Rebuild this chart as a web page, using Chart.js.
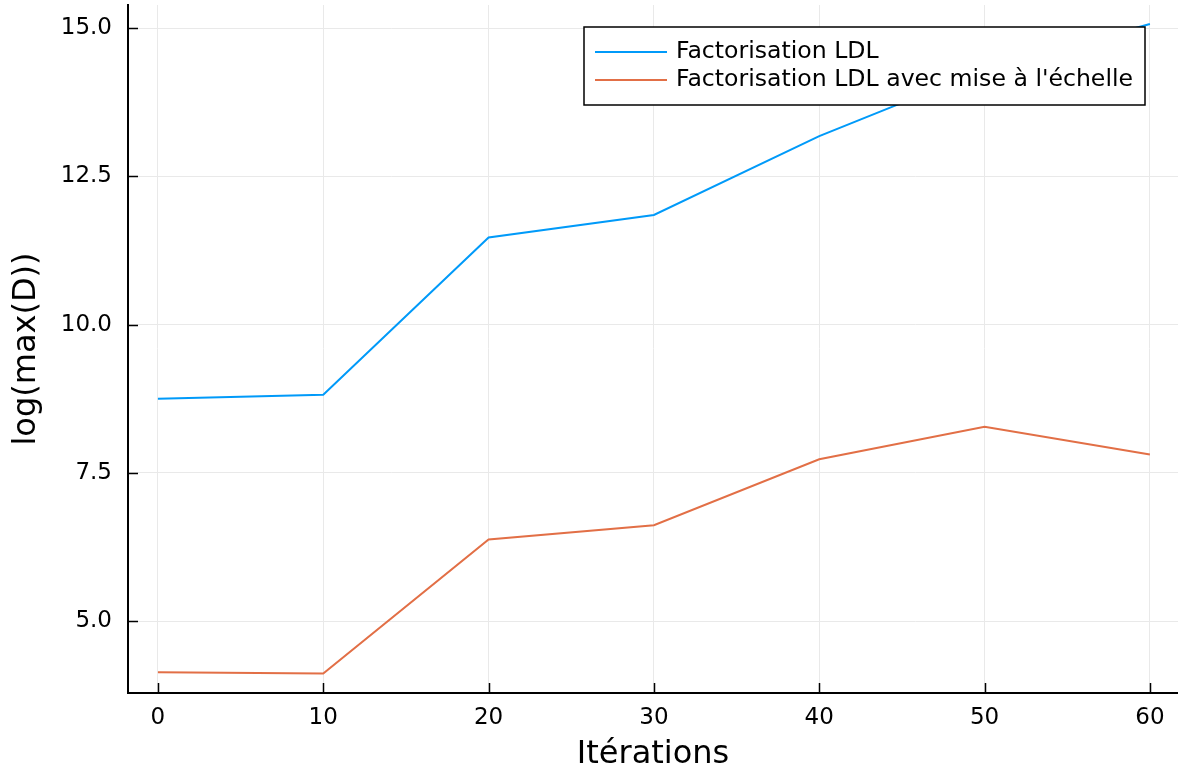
<!DOCTYPE html>
<html>
<head>
<meta charset="utf-8">
<title>log(max(D))</title>
<script src="https://cdn.jsdelivr.net/npm/chart.js@4.4.1/dist/chart.umd.min.js"></script>
<style>
  html, body { margin: 0; padding: 0; background: #ffffff; }
  #wrap { width: 1178px; height: 772px; }
</style>
</head>
<body>
<div id="wrap"><canvas id="c" width="1178" height="772"></canvas></div>
<script>
// Iteration counts and the log of the largest diagonal entry of D
const iterations = [0, 10, 20, 30, 40, 50, 60];
const ldl = [8.75, 8.82, 11.47, 11.85, 13.18, 14.30, 15.07];
const ldlScaled = [4.14, 4.12, 6.38, 6.62, 7.73, 8.28, 7.81];

const seriesLabels = ['Factorisation LDL', "Factorisation LDL avec mise à l'échelle"];
const seriesColors = ['#009af9', '#e26f46'];

const xTicks = [0, 10, 20, 30, 40, 50, 60];
const yTicks = [5.0, 7.5, 10.0, 12.5, 15.0];

const FONT = "'DejaVu Sans', sans-serif";
Chart.defaults.font.family = FONT;
Chart.defaults.color = '#000000';

// Short tick marks pointing into the plot area
const innerTicks = {
  id: 'innerTicks',
  afterDatasetsDraw(chart) {
    const { ctx, chartArea, scales } = chart;
    ctx.save();
    ctx.strokeStyle = '#000000';
    ctx.lineWidth = 1.5;
    ctx.beginPath();
    for (const v of xTicks) {
      const px = Math.round(scales.x.getPixelForValue(v)) + 0.5;
      ctx.moveTo(px, chartArea.bottom);
      ctx.lineTo(px, chartArea.bottom - 10);
    }
    for (const v of yTicks) {
      const py = Math.round(scales.y.getPixelForValue(v)) + 0.5;
      ctx.moveTo(chartArea.left, py);
      ctx.lineTo(chartArea.left + 10, py);
    }
    ctx.stroke();
    ctx.restore();
  }
};

// Framed legend in the upper right of the plot
const boxLegend = {
  id: 'boxLegend',
  afterDatasetsDraw(chart) {
    const { ctx } = chart;
    const x0 = 584, y0 = 27, w = 561, h = 78;
    ctx.save();
    ctx.fillStyle = '#ffffff';
    ctx.fillRect(x0, y0, w, h);
    ctx.strokeStyle = '#000000';
    ctx.lineWidth = 1.5;
    ctx.strokeRect(x0, y0, w, h);
    ctx.font = '23.6px ' + FONT;
    ctx.textBaseline = 'middle';
    ctx.textAlign = 'left';
    chart.data.datasets.forEach((ds, i) => {
      const cy = y0 + 25 + i * 28;
      ctx.strokeStyle = ds.borderColor;
      ctx.lineWidth = 2;
      ctx.beginPath();
      ctx.moveTo(x0 + 11, cy);
      ctx.lineTo(x0 + 83, cy);
      ctx.stroke();
      ctx.fillStyle = '#000000';
      ctx.fillText(ds.label, x0 + 92, cy);
    });
    ctx.restore();
  }
};

new Chart(document.getElementById('c'), {
  type: 'line',
  data: {
    datasets: [
      {
        label: seriesLabels[0],
        data: iterations.map((x, i) => ({ x, y: ldl[i] })),
        borderColor: seriesColors[0],
        backgroundColor: seriesColors[0],
        borderWidth: 2,
        pointRadius: 0,
        tension: 0
      },
      {
        label: seriesLabels[1],
        data: iterations.map((x, i) => ({ x, y: ldlScaled[i] })),
        borderColor: seriesColors[1],
        backgroundColor: seriesColors[1],
        borderWidth: 2,
        pointRadius: 0,
        tension: 0
      }
    ]
  },
  options: {
    responsive: false,
    animation: false,
    layout: { padding: { top: 5, right: 0, bottom: 0, left: 0 } },
    plugins: { legend: { display: false }, tooltip: { enabled: false } },
    scales: {
      x: {
        type: 'linear',
        min: -1.81,
        max: 61.7,
        afterBuildTicks(scale) { scale.ticks = xTicks.map(v => ({ value: v })); },
        afterFit(scale) { scale.height = 79; scale.paddingLeft = 0; scale.paddingRight = 0; },
        grid: { color: '#e9e9e9', lineWidth: 1, drawTicks: false },
        border: { display: true, color: '#000000', width: 2 },
        ticks: {
          padding: 11,
          font: { size: 23 },
          color: '#000000',
          callback: v => String(v)
        },
        title: {
          display: true,
          text: 'Itérations',
          font: { size: 32, lineHeight: 1.1 },
          color: '#000000',
          padding: { top: 0, bottom: 0 }
        }
      },
      y: {
        type: 'linear',
        min: 3.79,
        max: 15.39,
        afterBuildTicks(scale) { scale.ticks = yTicks.map(v => ({ value: v })); },
        afterFit(scale) { scale.width = 128; scale.paddingTop = 0; scale.paddingBottom = 0; },
        grid: { color: '#e9e9e9', lineWidth: 1, drawTicks: false },
        border: { display: true, color: '#000000', width: 2 },
        ticks: {
          padding: 16,
          font: { size: 23 },
          color: '#000000',
          callback: v => Number(v).toFixed(1)
        },
        title: {
          display: true,
          text: 'log(max(D))',
          font: { size: 32 },
          color: '#000000',
          padding: { top: 7, bottom: 0 }
        }
      }
    }
  },
  plugins: [innerTicks, boxLegend]
});
</script>
</body>
</html>
